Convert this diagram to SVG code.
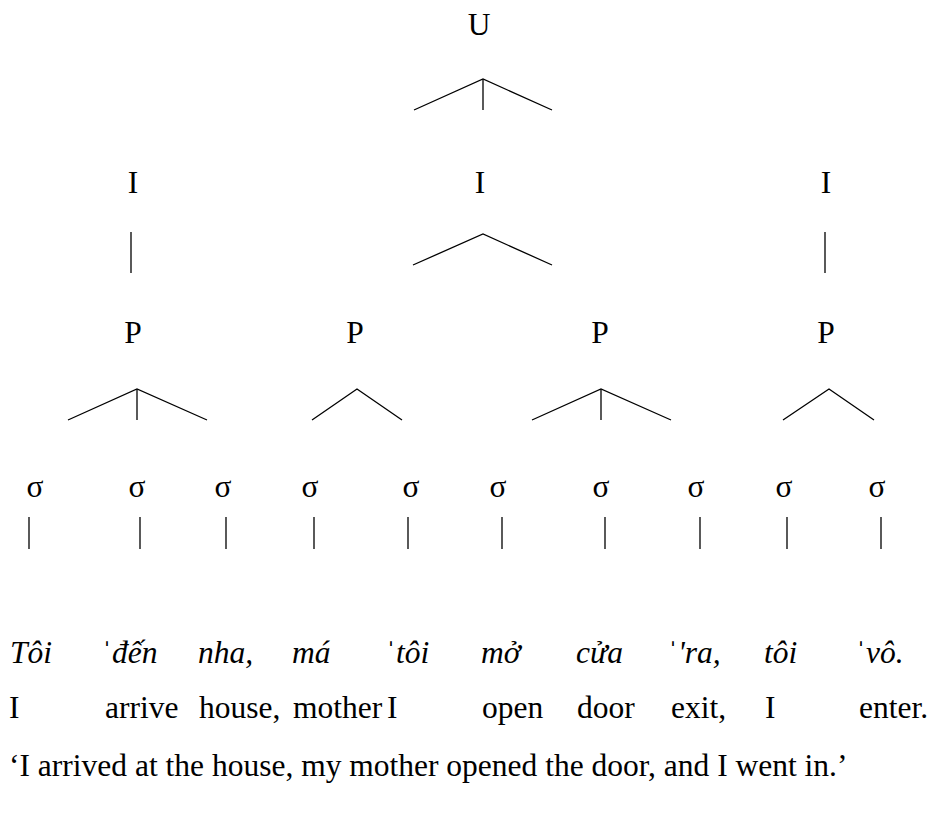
<svg xmlns="http://www.w3.org/2000/svg" width="934" height="816" viewBox="0 0 934 816">
<style>
text{font-family:'Liberation Serif',Tinos,'Times New Roman','DejaVu Serif',serif;font-size:31.5px;fill:#000}
.c{text-anchor:middle}
.it{font-style:italic}
.up{font-style:normal;font-family:'DejaVu Sans',sans-serif;font-size:30px;font-weight:300}
line,polyline{stroke:#000;stroke-width:1.3;fill:none}
</style>
<rect width="934" height="816" fill="#fff"/>
<g id="connectors">
<polyline points="414,110 483,79 552,110"/><line x1="483" y1="79" x2="483" y2="110"/>
<line x1="131" y1="232" x2="131" y2="273"/>
<polyline points="413,265 483,234 552,265"/>
<line x1="825" y1="232" x2="825" y2="273"/>
<polyline points="68,420 137,389 207,420"/><line x1="137" y1="389" x2="137" y2="420"/>
<polyline points="312,420 357,389 402,420"/>
<polyline points="532,420 601,389 671,420"/><line x1="601" y1="389" x2="601" y2="420"/>
<polyline points="783,420 829,389 874,420"/>
<line x1="29" y1="517" x2="29" y2="549"/>
<line x1="140" y1="517" x2="140" y2="549"/>
<line x1="226" y1="517" x2="226" y2="549"/>
<line x1="314" y1="517" x2="314" y2="549"/>
<line x1="408" y1="517" x2="408" y2="549"/>
<line x1="502" y1="517" x2="502" y2="549"/>
<line x1="605" y1="517" x2="605" y2="549"/>
<line x1="700" y1="517" x2="700" y2="549"/>
<line x1="787" y1="517" x2="787" y2="549"/>
<line x1="881" y1="517" x2="881" y2="549"/>
</g>
<g id="U"><text class="c" x="479" y="35">U</text></g>
<g id="I1"><text class="c" x="133" y="193">I</text></g>
<g id="I2"><text class="c" x="480" y="193">I</text></g>
<g id="I3"><text class="c" x="826" y="193">I</text></g>
<g id="P1"><text class="c" x="133" y="343">P</text></g>
<g id="P2"><text class="c" x="355" y="343">P</text></g>
<g id="P3"><text class="c" x="600" y="343">P</text></g>
<g id="P4"><text class="c" x="826" y="343">P</text></g>
<g id="syllables">
<text class="c" x="35" y="497">σ</text>
<text class="c" x="137" y="497">σ</text>
<text class="c" x="223" y="497">σ</text>
<text class="c" x="310" y="497">σ</text>
<text class="c" x="411" y="497">σ</text>
<text class="c" x="498" y="497">σ</text>
<text class="c" x="601" y="497">σ</text>
<text class="c" x="696" y="497">σ</text>
<text class="c" x="784" y="497">σ</text>
<text class="c" x="877" y="497">σ</text>
</g>
<g id="vietnamese">
<text class="it" x="10" y="663">Tôi</text>
<text class="it" x="102" y="663"><tspan class="up">ˈ</tspan>đến</text>
<text class="it" x="198" y="663">nha,</text>
<text class="it" x="292" y="663">má</text>
<text class="it" x="386" y="663"><tspan class="up">ˈ</tspan>tôi</text>
<text class="it" x="481" y="663">mở</text>
<text class="it" x="576" y="663">cửa</text>
<text class="it" x="668" y="663"><tspan class="up">ˈ</tspan>'ra,</text>
<text class="it" x="764" y="663">tôi</text>
<text class="it" x="856" y="663"><tspan class="up">ˈ</tspan>vô.</text>
</g>
<g id="gloss">
<text x="9" y="718">I</text>
<text x="105" y="718">arrive</text>
<text x="199" y="718">house,</text>
<text x="293" y="718">mother</text>
<text x="387" y="718">I</text>
<text x="482" y="718">open</text>
<text x="577" y="718">door</text>
<text x="671" y="718">exit,</text>
<text x="765" y="718">I</text>
<text x="859" y="718">enter.</text>
</g>
<g id="translation"><text x="9" y="776">‘I arrived at the house, my mother opened the door, and I went in.’</text></g>
</svg>
